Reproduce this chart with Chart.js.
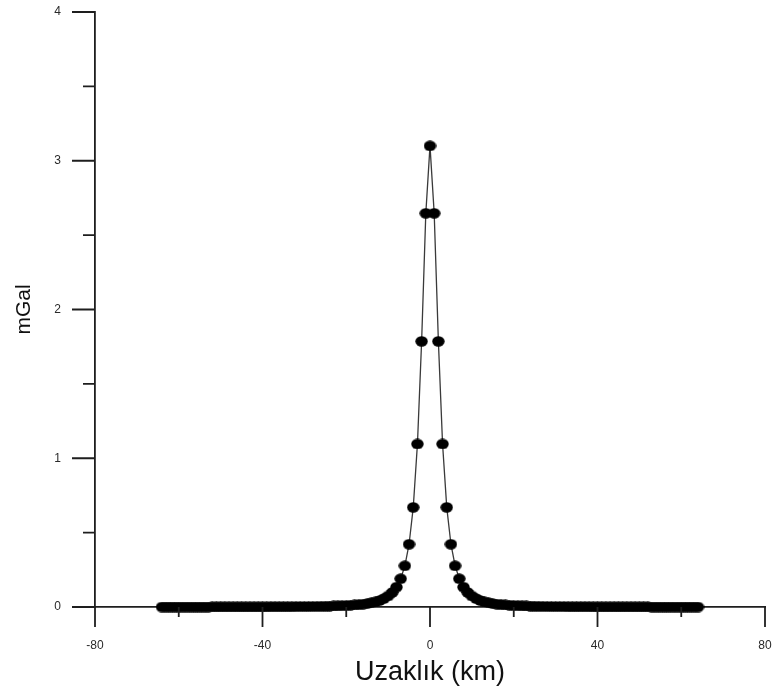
<!DOCTYPE html>
<html>
<head>
<meta charset="utf-8">
<title>Uzaklık - mGal</title>
<script src="https://cdn.jsdelivr.net/npm/chart.js@4.4.1/dist/chart.umd.min.js"></script>
<style>
  html, body { margin: 0; padding: 0; background: #fff; }
  #wrap { position: relative; width: 775px; height: 693px; }
</style>
</head>
<body>
<div id="wrap"><canvas id="anomalyChart"></canvas></div>
<script>
// Profil boyunca uzaklık (km)
const distanceKm = [
  -64, -63, -62, -61, -60, -59, -58, -57, -56, -55, -54, -53, -52, -51, -50, -49,
  -48, -47, -46, -45, -44, -43, -42, -41, -40, -39, -38, -37, -36, -35, -34, -33,
  -32, -31, -30, -29, -28, -27, -26, -25, -24, -23, -22, -21, -20, -19, -18, -17,
  -16, -15, -14, -13, -12, -11, -10, -9, -8, -7, -6, -5, -4, -3, -2, -1,
  0,
  1, 2, 3, 4, 5, 6, 7, 8, 9, 10, 11, 12, 13, 14, 15, 16,
  17, 18, 19, 20, 21, 22, 23, 24, 25, 26, 27, 28, 29, 30, 31, 32,
  33, 34, 35, 36, 37, 38, 39, 40, 41, 42, 43, 44, 45, 46, 47, 48,
  49, 50, 51, 52, 53, 54, 55, 56, 57, 58, 59, 60, 61, 62, 63, 64
];

// Gravite anomalisi (mGal)
const gravityMGal = [
  0, 0, 0, 0, 0, 0, 0, 0, 0, 0, 0, 0, 0.001, 0.001, 0.001, 0.001,
  0.001, 0.001, 0.001, 0.001, 0.001, 0.001, 0.001, 0.001, 0.001, 0.001, 0.002, 0.002, 0.002, 0.002, 0.002, 0.002,
  0.003, 0.003, 0.003, 0.003, 0.004, 0.004, 0.005, 0.005, 0.006, 0.007, 0.008, 0.009, 0.010, 0.012, 0.014, 0.016,
  0.019, 0.023, 0.029, 0.035, 0.044, 0.057, 0.074, 0.098, 0.134, 0.190, 0.277, 0.422, 0.670, 1.096, 1.786, 2.647,
  3.100,
  2.647, 1.786, 1.096, 0.670, 0.422, 0.277, 0.190, 0.134, 0.098, 0.074, 0.057, 0.044, 0.035, 0.029, 0.023, 0.019,
  0.016, 0.014, 0.012, 0.010, 0.009, 0.008, 0.007, 0.006, 0.005, 0.005, 0.004, 0.004, 0.003, 0.003, 0.003, 0.003,
  0.002, 0.002, 0.002, 0.002, 0.002, 0.002, 0.001, 0.001, 0.001, 0.001, 0.001, 0.001, 0.001, 0.001, 0.001, 0.001,
  0.001, 0.001, 0.001, 0.001, 0, 0, 0, 0, 0, 0, 0, 0, 0, 0, 0, 0
];

// Eksen çentikleri
const xMajorTicks = [-80, -40, 0, 40, 80];
const xMinorTicks = [-60, -20, 20, 60];
const yMajorTicks = [0, 1, 2, 3, 4];
const yMinorTicks = [0.5, 1.5, 2.5, 3.5];

const FONT = 'Arial, "Liberation Sans", Helvetica, sans-serif';
const AXIS_COLOR = '#1e1e1e';

// Noktalar için biraz basık elips
function makeDot(w, h) {
  const c = document.createElement('canvas');
  c.width = w;
  c.height = h;
  const g = c.getContext('2d');
  g.fillStyle = '#000';
  g.beginPath();
  g.ellipse(w / 2, h / 2, w / 2 - 0.3, h / 2 - 0.3, 0, 0, Math.PI * 2);
  g.fill();
  return c;
}
const dot = makeDot(13, 11);

// Eksenlerin dışına doğru çentik çizimi
const outerTicks = {
  id: 'outerTicks',
  afterDraw(chart) {
    const { ctx, scales: { x, y } } = chart;
    const bottom = y.getPixelForValue(0);
    const left = x.getPixelForValue(-80);
    ctx.save();
    ctx.strokeStyle = AXIS_COLOR;
    ctx.lineWidth = 1.8;
    ctx.beginPath();
    xMajorTicks.forEach(v => {
      const px = x.getPixelForValue(v);
      ctx.moveTo(px, bottom);
      ctx.lineTo(px, bottom + 20);
    });
    xMinorTicks.forEach(v => {
      const px = x.getPixelForValue(v);
      ctx.moveTo(px, bottom);
      ctx.lineTo(px, bottom + 10);
    });
    yMajorTicks.forEach(v => {
      const py = y.getPixelForValue(v);
      ctx.moveTo(left, py);
      ctx.lineTo(left - 23, py);
    });
    yMinorTicks.forEach(v => {
      const py = y.getPixelForValue(v);
      ctx.moveTo(left, py);
      ctx.lineTo(left - 12, py);
    });
    ctx.stroke();
    ctx.restore();
  }
};

new Chart(document.getElementById('anomalyChart'), {
  type: 'line',
  data: {
    datasets: [{
      data: distanceKm.map((d, i) => ({ x: d, y: gravityMGal[i] })),
      borderColor: '#3a3a3a',
      borderWidth: 1.3,
      pointStyle: dot,
      pointRadius: 6,
      pointHoverRadius: 6,
      tension: 0,
      clip: false
    }]
  },
  options: {
    responsive: true,
    maintainAspectRatio: false,
    animation: false,
    layout: { padding: { top: 12, right: 10, left: 0, bottom: 0 } },
    plugins: {
      legend: { display: false },
      tooltip: { enabled: false }
    },
    scales: {
      x: {
        type: 'linear',
        min: -80,
        max: 80,
        afterFit: scale => { scale.height = 86; },
        border: { display: true, color: AXIS_COLOR, width: 1.8 },
        // görünmez tick boşluğu etiketleri aşağı iter
        grid: { display: true, drawOnChartArea: false, drawTicks: true, tickLength: 29, color: 'transparent', tickColor: 'transparent' },
        ticks: {
          stepSize: 40,
          padding: 2,
          maxRotation: 0,
          color: '#2a2a2a',
          font: { family: FONT, size: 12 }
        },
        title: {
          display: true,
          text: 'Uzaklık (km)',
          color: '#111',
          font: { family: FONT, size: 27 },
          padding: { top: 0, bottom: 4 }
        }
      },
      y: {
        type: 'linear',
        min: 0,
        max: 4,
        afterFit: scale => { scale.width = 95; },
        border: { display: true, color: AXIS_COLOR, width: 1.8 },
        grid: { display: true, drawOnChartArea: false, drawTicks: true, tickLength: 32, color: 'transparent', tickColor: 'transparent' },
        ticks: {
          stepSize: 1,
          padding: 2,
          color: '#2a2a2a',
          font: { family: FONT, size: 12 }
        },
        title: {
          display: true,
          text: 'mGal',
          color: '#111',
          font: { family: FONT, size: 21 },
          padding: { top: 12, bottom: 0 }
        }
      }
    }
  },
  plugins: [outerTicks]
});
</script>
</body>
</html>
